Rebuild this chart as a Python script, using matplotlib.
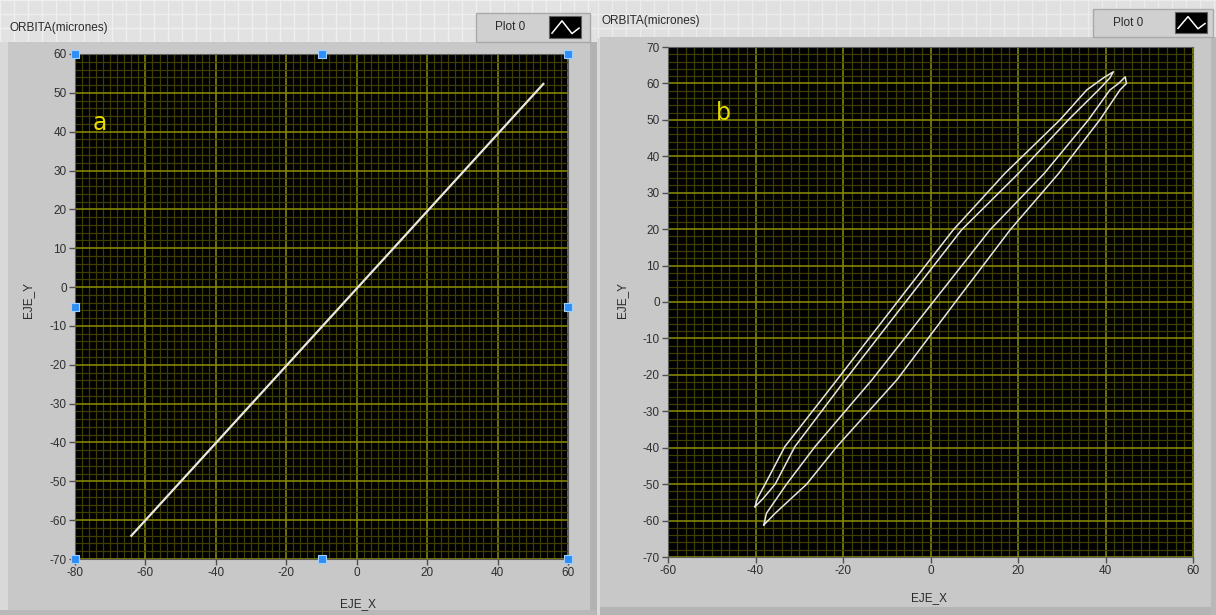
import matplotlib
matplotlib.use('Agg')
import matplotlib.pyplot as plt
from matplotlib.patches import Rectangle
from matplotlib.ticker import MultipleLocator

plt.rcParams['axes.unicode_minus'] = False
FONT = ['Liberation Sans Narrow', 'Liberation Sans', 'DejaVu Sans']
plt.rcParams['font.family'] = FONT

# ---------------- data ----------------
title_text = "ORBITA(micrones)"
legend_text = "Plot 0"
x_label = "EJE_X"
y_label = "EJE_Y"

# panel a : straight line orbit
a_x = [-64.0, 53.0]
a_y = [-64.0, 52.3]
a_xlim = (-80, 60)
a_ylim = (-70, 60)
a_xticks = [-80, -60, -40, -20, 0, 20, 40, 60]
a_yticks = [60, 50, 40, 30, 20, 10, 0, -10, -20, -30, -40, -50, -60, -70]

# panel b : elliptical orbit, two loops
b_loop1_x = [-40.1, -39.6, -37.8, -33.3, -21.4, -7.6, 5.2, 17.0, 29.6, 35.7, 39.5, 41.8,
             41.0, 38.4, 31.5, 20.1, 7.1, -5.7, -19.5, -31.0, -35.5, -38.3, -40.1]
b_loop1_y = [-56.2, -54.0, -50.0, -39.7, -21.4, 0.0, 19.8, 35.3, 50.0, 58.2, 61.5, 63.2,
             61.5, 58.2, 50.0, 35.3, 19.8, 0.0, -21.4, -39.7, -50.0, -54.0, -56.2]
b_loop2_x = [-38.1, -37.5, -32.9, -26.4, -13.4, 0.6, 13.6, 26.0, 36.1, 41.0, 43.0, 44.5,
             44.8, 43.3, 38.7, 29.3, 18.2, 5.7, -7.7, -21.4, -28.3, -35.5, -38.1]
b_loop2_y = [-61.2, -58.0, -50.0, -39.7, -21.4, 0.0, 19.8, 35.3, 50.0, 58.2, 60.0, 61.8,
             60.0, 58.2, 50.0, 35.3, 19.8, 0.0, -21.4, -39.7, -50.0, -58.0, -61.2]
b_xlim = (-60, 60)
b_ylim = (-70, 70)
b_xticks = [-60, -40, -20, 0, 20, 40, 60]
b_yticks = [70, 60, 50, 40, 30, 20, 10, 0, -10, -20, -30, -40, -50, -60, -70]

# ---------------- figure ----------------
W, H = 1216, 615
fig = plt.figure(figsize=(W / 100, H / 100), dpi=100)
bg = fig.add_axes([0, 0, 1, 1])
bg.set_xlim(0, W)
bg.set_ylim(H, 0)
bg.axis('off')


def rect(x, y, w, h, fc, ec='none', lw=0, z=1):
    bg.add_patch(Rectangle((x, y), w, h, fc=fc, ec=ec, lw=lw, zorder=z))


def hgrid(x0, x1, y0, y1, step, col):
    for gx in range(x0, x1, step):
        bg.plot([gx, gx], [y0, y1], color=col, lw=1, zorder=1.5)
    for gy in range(y0, y1, step):
        bg.plot([x0, x1], [gy, gy], color=col, lw=1, zorder=1.5)


# base + header strips with light front-panel grid
rect(0, 0, W, H, '#d2d2d2', z=1)
rect(0, 0, 598, 44, '#e2e2e2', z=1.2)
hgrid(0, 598, 0, 44, 14, '#efefef')
rect(598, 0, 618, 38, '#e0e0e0', z=1.2)
hgrid(598, W, 0, 38, 14, '#ececec')

# left panel body
rect(0, 42, 596, 573, '#c8c8c8', z=2)
rect(0, 42, 8, 573, '#d9d9d9', z=2.1)
rect(590, 42, 7, 573, '#b2b2b2', z=2.1)
rect(0, 610, 596, 5, '#b8b8b8', z=2.1)
# right panel body
rect(597, 38, 3, 577, '#dadada', z=2)
rect(600, 37, 616, 570, '#c8c8c8', z=2)
rect(600, 607, 616, 8, '#b4b4b4', z=2.1)
rect(1211, 37, 5, 578, '#b8b8b8', z=2.1)


def legend_box(x0, y0, w, h, tx, sx):
    rect(x0, y0, w, h, '#d0d0d0', ec='#a9a9a9', lw=1, z=3)
    bg.text(tx, y0 + h / 2, legend_text, ha='center', va='center', fontsize=8.5,
            color='#2a2a2a', zorder=4)
    rect(sx, y0 + 3, 32, h - 7, 'black', ec='#606060', lw=0.8, z=4)
    ys = y0 + 3
    hh = h - 7
    bg.plot([sx + 3, sx + 13, sx + 23, sx + 30],
            [ys + hh * 0.78, ys + hh * 0.22, ys + hh * 0.8, ys + hh * 0.55],
            color='white', lw=1.1, zorder=5)


legend_box(476, 13, 114, 29, 510, 549)
legend_box(1093, 9, 120, 28, 1128, 1175)

tk = dict(fontsize=8.5, color='#2a2a2a', zorder=4)
bg.text(9, 28, title_text, ha='left', va='center', **tk)
bg.text(601, 21, title_text, ha='left', va='center', **tk)
bg.text(28, 300, y_label, rotation=90, ha='center', va='center', **tk)
bg.text(622, 300, y_label, rotation=90, ha='center', va='center', **tk)
bg.text(358, 604, x_label, ha='center', va='center', **tk)
bg.text(929, 598, x_label, ha='center', va='center', **tk)


def style_axes(ax, xlim, ylim, xticks, yticks, xminor, yminor):
    ax.set_facecolor('black')
    ax.set_xlim(*xlim)
    ax.set_ylim(*ylim)
    ax.set_xticks(xticks)
    ax.set_yticks(yticks)
    ax.xaxis.set_minor_locator(MultipleLocator(xminor))
    ax.yaxis.set_minor_locator(MultipleLocator(yminor))
    ax.grid(which='minor', color='#3e3e00', lw=0.9)
    ax.grid(which='major', color='#858500', lw=1.2)
    ax.set_axisbelow(True)
    ax.tick_params(which='minor', length=0)
    ax.tick_params(which='major', length=4, width=1, color='#505050', labelsize=8.5,
                   labelcolor='#2f2f2f', pad=2)
    for s in ax.spines.values():
        s.set_color('#606060')
        s.set_linewidth(0.8)


# panel a
axa = fig.add_axes([75 / W, 1 - 559 / H, 493 / W, 505 / H])
style_axes(axa, a_xlim, a_ylim, a_xticks, a_yticks, 2, 2)
axa.plot(a_x, a_y, color='#e8e8e0', lw=1.6, zorder=3)
axa.text(0.051, 0.863, 'a', transform=axa.transAxes, color='#e6dc00', fontsize=17,
         ha='center', va='center', family='DejaVu Sans')
hx = [0, 0.5, 1, 0, 1, 0, 0.5, 1]
hy = [1, 1, 1, 0.5, 0.5, 0, 0, 0]
axa.scatter(hx, hy, marker='s', s=34, color='#2e8ef5', edgecolor='#9fd0ff', lw=0.8,
            transform=axa.transAxes, clip_on=False, zorder=6)

# panel b
axb = fig.add_axes([668 / W, 1 - 557 / H, 525 / W, 510 / H])
style_axes(axb, b_xlim, b_ylim, b_xticks, b_yticks, 2, 2)
axb.plot(b_loop1_x, b_loop1_y, color='#e4e4e4', lw=1.1, zorder=3)
axb.plot(b_loop2_x, b_loop2_y, color='#e4e4e4', lw=1.1, zorder=3)
axb.text(0.105, 0.871, 'b', transform=axb.transAxes, color='#e6dc00', fontsize=17,
         ha='center', va='center', family='DejaVu Sans')

fig.savefig('out.png', dpi=100)
